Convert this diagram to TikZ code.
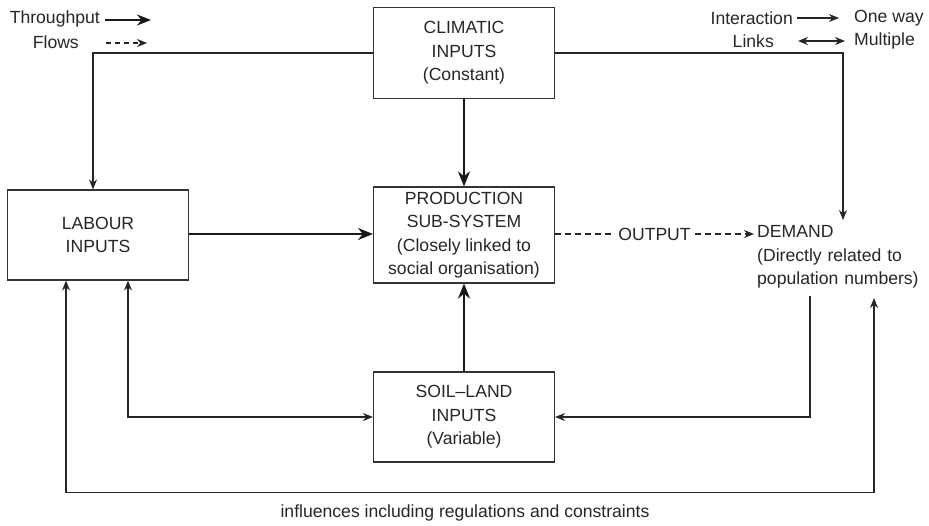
\documentclass[tikz,border=0pt]{standalone}
\usepackage{fontspec}
\setmainfont{Liberation Sans}
\usetikzlibrary{arrows.meta}
\begin{document}
\begin{tikzpicture}[x=1pt,y=-1pt,
  every node/.style={font=\fontsize{17.6}{23.5}\selectfont, text=black!85},
  box/.style={draw=black!80, line width=1.1pt, minimum width=181pt, align=center, inner sep=0pt},
  thinarrow/.style={draw=black!85, line width=1.1pt, -{Stealth[length=10pt,width=8pt]}},
  twoway/.style={draw=black!85, line width=1.1pt, {Stealth[length=10pt,width=8pt]}-{Stealth[length=10pt,width=8pt]}},
  thickarrow/.style={draw=black!90, line width=2.8pt, -{Stealth[length=15pt,width=12pt]}},
  flowarrow/.style={draw=black!85, line width=1.1pt, dashed, dash pattern=on 6pt off 4pt, -{Stealth[length=10pt,width=8pt]}}
]
\useasboundingbox (0,0) rectangle (929,525);

% system components
\node[box, minimum height=91pt] (clim) at (464,53) {CLIMATIC\\INPUTS\\(Constant)};
\node[box, minimum height=96pt] (prod) at (464,235) {PRODUCTION\\SUB-SYSTEM\\(Closely linked to\\social organisation)};
\node[box, minimum height=90pt] (lab) at (98,235) {LABOUR\\INPUTS};
\node[box, minimum height=90pt] (soil) at (464,417) {SOIL--LAND\\INPUTS\\(Variable)};
\node[align=left, text width=163pt, anchor=west, inner sep=0pt, minimum height=78pt] (dem) at (757,257)
  {DEMAND\\(Directly related to\\population numbers)};

% reference points for the links around DEMAND
\coordinate (dtop) at (843,220);
\coordinate (ddown) at (810,296);
\coordinate (dup) at (874,298);
\coordinate (bl) at (66,492.5);
\coordinate (br) at (874,492.5);

% throughput flows
\draw[thickarrow] (clim.south) -- (prod.north);
\draw[thickarrow] (soil.north) -- (prod.south);
\draw[thickarrow] ([yshift=1pt]lab.east) -- ([yshift=1pt]lab.east -| prod.west);
\draw[flowarrow] ([yshift=1pt]prod.east) -- node[fill=white, inner sep=3pt] (out) {OUTPUT} ([xshift=-3pt,yshift=1pt]prod.east -| dem.west);

% interaction links
\draw[thinarrow] (clim.west) -| ([xshift=-5pt]lab.north);
\draw[thinarrow] (clim.east) -| (dtop);
\draw[twoway] ([xshift=30pt]lab.south) |- (soil.west);
\draw[thinarrow] (ddown) |- (soil.east);
\draw[twoway] ([xshift=-32pt]lab.south) -- (bl) -- (br) -- (dup);
\node (infl) at (465,513) {influences including regulations and constraints};

% key
\node[anchor=east, inner sep=0pt] (ktp) at (100,19) {Throughput};
\node[anchor=east, inner sep=0pt] (kfl) at (79,42) {Flows};
\coordinate (ktps) at (105,20);
\coordinate (ktpa) at (151,20);
\coordinate (kfls) at (106,43);
\coordinate (kfla) at (147,43);
\draw[thickarrow, line width=2.4pt, -{Stealth[length=14pt,width=11pt]}] (ktps) -- (ktpa);
\draw[flowarrow, dash pattern=on 5pt off 4pt] (kfls) -- (kfla);

\node[anchor=east, inner sep=0pt] (kint) at (793,18) {Interaction};
\node[anchor=east, inner sep=0pt] (klnk) at (774,41) {Links};
\node[anchor=west, inner sep=0pt] (kone) at (854,18) {One way};
\node[anchor=west, inner sep=0pt] (kmul) at (854,41) {Multiple};
\coordinate (kos) at (797,18);
\coordinate (koa) at (839,18);
\coordinate (kla) at (798,41);
\coordinate (klb) at (845,41);
\draw[thinarrow] (kos) -- (koa);
\draw[twoway] (kla) -- (klb);
\end{tikzpicture}
\end{document}
